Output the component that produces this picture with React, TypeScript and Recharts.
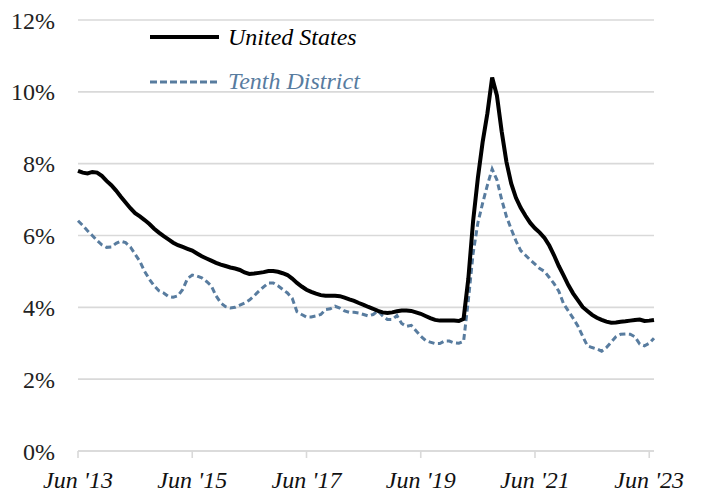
import { CartesianGrid, Line, LineChart, XAxis, YAxis } from "recharts";

// monthly, Jun '13 .. Jul '23 (index 0 = Jun '13)
const tickLabels = ["Jun '13", "Jun '15", "Jun '17", "Jun '19", "Jun '21", "Jun '23"];
const tickIdx = [0, 24, 48, 72, 96, 120];
const yTicks = [0, 2, 4, 6, 8, 10, 12];

const unitedStates = [
  7.8, 7.75, 7.73, 7.77, 7.75, 7.66, 7.52, 7.4, 7.25, 7.08, 6.92, 6.76, 6.62, 6.53, 6.43, 6.32,
  6.19, 6.08, 5.98, 5.89, 5.8, 5.73, 5.68, 5.63, 5.58, 5.5, 5.42, 5.36, 5.3, 5.24, 5.19, 5.15,
  5.11, 5.08, 5.04, 4.97, 4.93, 4.94, 4.96, 4.98, 5.01, 5.01, 4.99, 4.95, 4.9, 4.8, 4.68, 4.58,
  4.49, 4.43, 4.38, 4.34, 4.32, 4.32, 4.32, 4.31, 4.27, 4.22, 4.18, 4.12, 4.07, 4.01, 3.96, 3.9,
  3.86, 3.84, 3.86, 3.89, 3.91, 3.91, 3.9, 3.86, 3.82, 3.76, 3.7, 3.65, 3.63, 3.63, 3.63, 3.63,
  3.62, 3.68, 4.8, 6.4, 7.6, 8.6, 9.4, 10.4, 9.9, 8.9, 8.05, 7.45, 7.05, 6.77, 6.55, 6.35,
  6.2, 6.08, 5.93, 5.72, 5.45, 5.15, 4.89, 4.62, 4.39, 4.2, 4.01, 3.9, 3.79, 3.71, 3.65, 3.6,
  3.57, 3.58, 3.6, 3.61, 3.63, 3.65, 3.66, 3.62, 3.63, 3.65,
];

const tenthDistrict = [
  6.41, 6.28, 6.13, 6.0, 5.86, 5.74, 5.67, 5.68, 5.78, 5.84, 5.8, 5.68, 5.48, 5.28, 5.0, 4.78,
  4.6, 4.46, 4.4, 4.3, 4.28, 4.32, 4.5, 4.8, 4.9, 4.87, 4.82, 4.72, 4.6, 4.32, 4.12, 4.02,
  3.98, 4.0, 4.06, 4.12, 4.2, 4.32, 4.45, 4.57, 4.68, 4.68, 4.6, 4.5, 4.4, 4.25, 3.88, 3.8,
  3.73, 3.73, 3.76, 3.8, 3.94, 3.96, 4.03, 3.98, 3.9, 3.86, 3.86, 3.84, 3.8, 3.76, 3.8, 3.9,
  3.76, 3.66, 3.66, 3.77, 3.55, 3.47, 3.5, 3.35, 3.2, 3.08, 3.03, 2.99, 2.99, 3.06, 3.06, 3.01,
  3.0, 3.05, 4.2, 5.5, 6.35, 6.9, 7.4, 7.85, 7.55, 7.0, 6.53, 6.18, 5.85, 5.58, 5.45, 5.32,
  5.2, 5.08, 5.0, 4.83, 4.66, 4.45, 4.1, 3.9, 3.7, 3.48, 3.2, 2.93, 2.88, 2.84, 2.78, 2.88,
  3.03, 3.18, 3.25, 3.26, 3.25, 3.18, 2.98, 2.93, 3.0, 3.14,
];

const data = unitedStates.map((us, i) => ({ idx: i, us, tenth: tenthDistrict[i] }));

const FONT = "Liberation Serif";
const BLUE = "#587c9f";
const GRID = "#d9d9d9";

function fmtX(v: number) {
  const k = tickIdx.indexOf(v);
  return k >= 0 ? tickLabels[k] : "";
}

export default function App() {
  return (
    <div
      style={{
        position: "absolute",
        left: 0,
        top: 0,
        width: 707,
        height: 502,
        background: "#fff",
        fontFamily: FONT,
      }}
    >
      <LineChart
        width={707}
        height={502}
        data={data}
        margin={{ top: 20, right: 53, bottom: 0, left: 0 }}
      >
        <CartesianGrid vertical={false} stroke={GRID} strokeWidth={1.6} />
        <XAxis
          dataKey="idx"
          type="number"
          domain={[0, 121]}
          ticks={tickIdx}
          tickFormatter={fmtX}
          height={51}
          stroke={GRID}
          strokeWidth={1.6}
          tickSize={7}
          tickMargin={13}
          tick={{ fill: "#111", fontSize: 24, fontFamily: FONT, fontStyle: "italic" }}
          interval={0}
        />
        <YAxis
          domain={[0, 12]}
          ticks={yTicks}
          tickFormatter={(v) => `${v}%`}
          width={78}
          axisLine={false}
          tickLine={false}
          tickSize={6}
          tickMargin={17}
          tick={{ fill: "#222", fontSize: 24, fontFamily: FONT }}
          interval={0}
        />
        <Line
          dataKey="tenth"
          type="linear"
          stroke={BLUE}
          strokeWidth={3}
          strokeDasharray="6 3.5"
          dot={false}
          isAnimationActive={false}
        />
        <Line
          dataKey="us"
          type="linear"
          stroke="#000"
          strokeWidth={4}
          dot={false}
          isAnimationActive={false}
        />
      </LineChart>
      <svg width={400} height={100} style={{ position: "absolute", left: 0, top: 0 }}>
        <line x1={150} x2={219} y1={37} y2={37} stroke="#000" strokeWidth={4} />
        <text x={228} y={45} fontSize={24} fontFamily={FONT} fontStyle="italic" fill="#000">
          United States
        </text>
        <line x1={150} x2={219} y1={82} y2={82} stroke={BLUE} strokeWidth={3} strokeDasharray="7 3" />
        <text x={228} y={89} fontSize={24} fontFamily={FONT} fontStyle="italic" fill={BLUE}>
          Tenth District
        </text>
      </svg>
    </div>
  );
}
